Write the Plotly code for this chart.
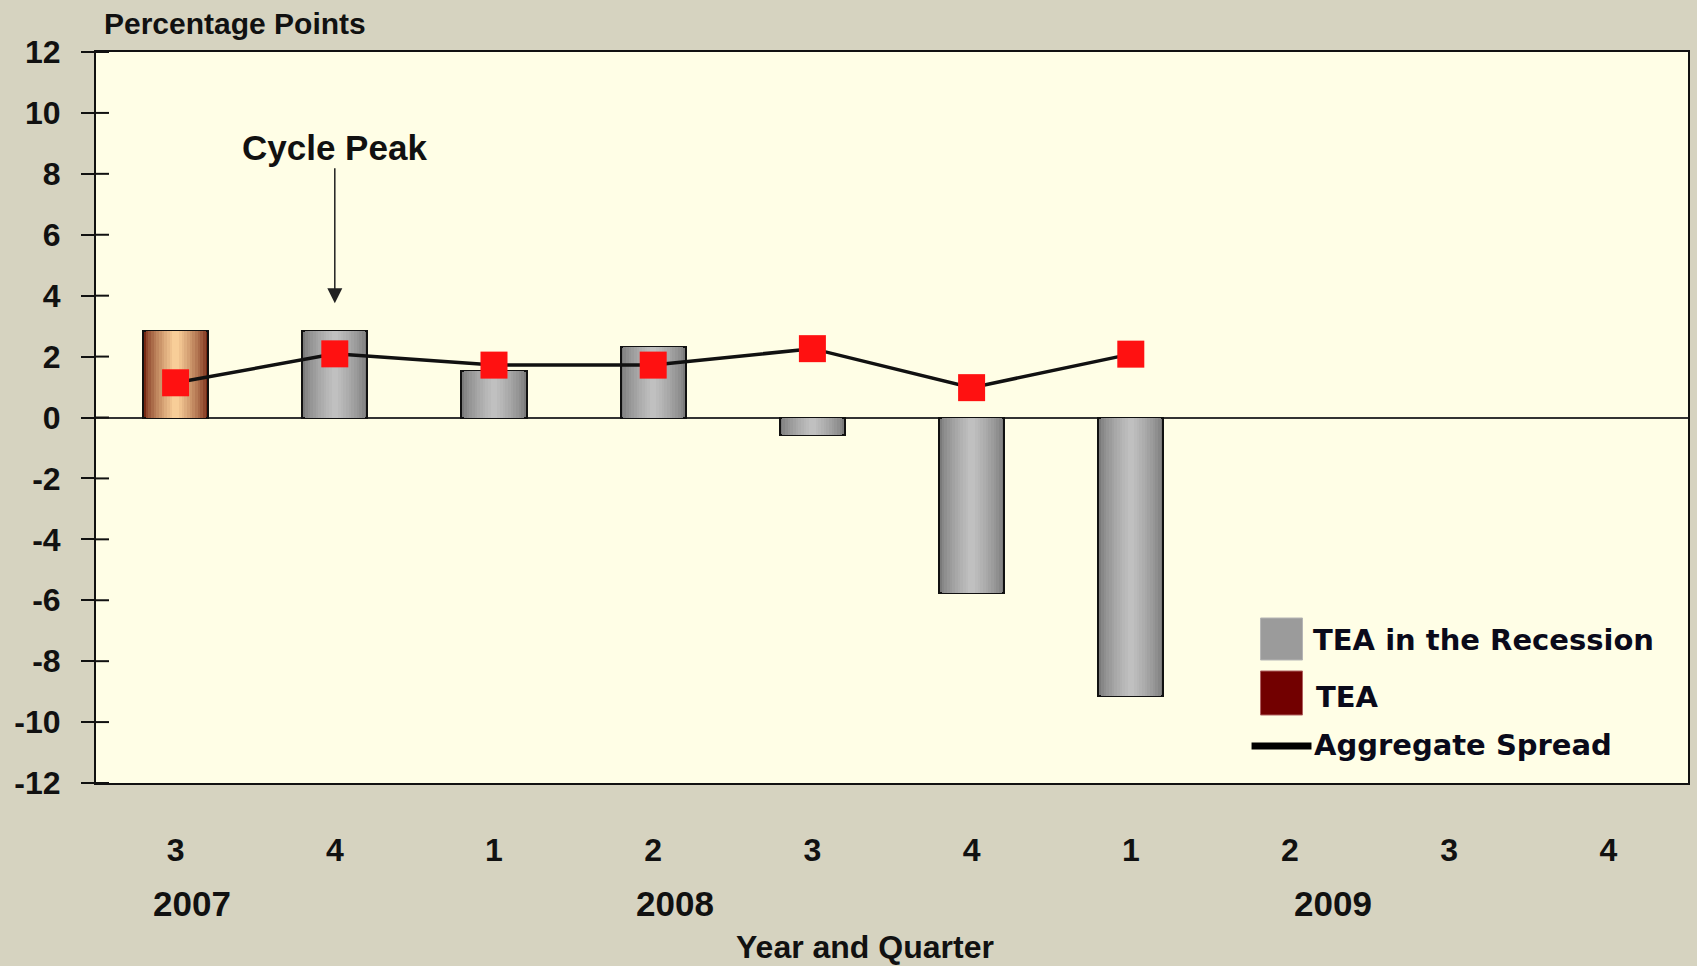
import plotly.graph_objs as go

# === Daten ===
quarters = ["3", "4", "1", "2", "3", "4", "1", "2", "3", "4"]
years = ["2007", "2008", "2009"]
year_pos = [0.1, 3.14, 7.27]          # label positions on the quarter axis

tea = [2.85, None, None, None, None, None, None, None, None, None]
tea_recession = [None, 2.85, 1.54, 2.3, -0.56, -5.77, -9.15, None, None, None]
aggregate_spread = [1.14, 2.09, 1.72, 1.72, 2.26, 0.98, 2.08, None, None, None]

y_ticks = list(range(-12, 13, 2))
y_ticktext = [str(v) for v in y_ticks]   # plain hyphen, like the original

x_idx = list(range(len(quarters)))

# === Geometrie (Pixel des Originals) ===
W, H = 1697, 966
L, R, T, B = 96, 1690, 52, 783


def px(x, y):
    return (x - L) / (R - L), (B - y) / (B - T)


FONT = "Liberation Sans, Arial, sans-serif"
LEG_FONT = "DejaVu Sans, Verdana, sans-serif"


def mix(c1, c2, t):
    return "rgb({},{},{})".format(*[round(a + (b - a) * t) for a, b in zip(c1, c2)])


fig = go.Figure()

# === Balken mit Zylinder-Verlauf (mehrere überlagerte Schichten) ===
bar_w = 0.41
n_layers = 12
series = [
    ("TEA in the Recession", tea_recession, (122, 122, 122), (192, 192, 192)),
    ("TEA", tea, (118, 40, 20), (248, 206, 152)),
]
for name, vals, dark, light in series:
    for k in range(n_layers):
        t = k / (n_layers - 1)
        fig.add_trace(go.Bar(
            x=x_idx, y=vals,
            width=bar_w * (1 - 0.9 * t),
            marker=dict(color=mix(dark, light, t ** 0.7),
                        line=dict(color="#111111", width=2 if k == 0 else 0)),
            name=name, showlegend=False, hoverinfo="skip" if k else None,
        ))

# === Aggregate Spread ===
fig.add_trace(go.Scatter(
    x=x_idx, y=aggregate_spread, mode="lines+markers",
    line=dict(color="#111111", width=3.5),
    marker=dict(symbol="square", size=27, color="#ff1111"),
    name="Aggregate Spread", showlegend=False,
))

shapes = []
annotations = []

# Tick-Stummel innerhalb der Achse (Original: Ticks kreuzen die Achse)
tick_in = 13 / (R - L)
for v in y_ticks:
    shapes.append(dict(type="line", xref="paper", yref="y", x0=0, x1=tick_in, y0=v, y1=v,
                       line=dict(color="#111111", width=2)))

# === Legende (von Hand) ===
x0, y0 = px(1262, 618); x1, y1 = px(1304, 660)
shapes.append(dict(type="rect", xref="paper", yref="paper", x0=x0, y0=y0, x1=x1, y1=y1,
                   fillcolor="#9b9b9b", line=dict(color="#b5b5b5", width=1)))
x0, y0 = px(1262, 671); x1, y1 = px(1304, 715)
shapes.append(dict(type="rect", xref="paper", yref="paper", x0=x0, y0=y0, x1=x1, y1=y1,
                   fillcolor="#720000", line=dict(color="#b06060", width=1)))
x0, y0 = px(1253, 746); x1, _ = px(1313, 746)
shapes.append(dict(type="line", xref="paper", yref="paper", x0=x0, y0=y0, x1=x1, y1=y0,
                   line=dict(color="#000000", width=7)))

for label, lx, ly in [("TEA in the Recession", 1313, 640),
                      ("TEA", 1316, 697),
                      ("Aggregate Spread", 1314, 745)]:
    ax_, ay_ = px(lx, ly)
    annotations.append(dict(text=f"<b>{label}</b>", xref="paper", yref="paper",
                            x=ax_, y=ay_, xanchor="left", yanchor="middle", showarrow=False,
                            font=dict(family=LEG_FONT, size=29, color="#0a0a1a")))

# === Jahre, Achsentitel, Cycle Peak ===
for yr, pos in zip(years, year_pos):
    _, yy = px(0, 903)
    annotations.append(dict(text=f"<b>{yr}</b>", xref="x", yref="paper", x=pos, y=yy,
                            xanchor="center", yanchor="middle", showarrow=False,
                            font=dict(family=FONT, size=35, color="#111111")))

tx, ty = px(866, 947)
annotations.append(dict(text="<b>Year and Quarter</b>", xref="paper", yref="paper", x=tx, y=ty,
                        xanchor="center", yanchor="middle", showarrow=False,
                        font=dict(family=FONT, size=32, color="#111111")))

tx, ty = px(102, 24)
annotations.append(dict(text="<b>Percentage Points</b>", xref="paper", yref="paper", x=tx, y=ty,
                        xanchor="left", yanchor="middle", showarrow=False,
                        font=dict(family=FONT, size=30, color="#111111")))

annotations.append(dict(text="<b>Cycle Peak</b>", x=1, y=3.75, xref="x", yref="y",
                        ax=0, ay=-156, showarrow=True, arrowhead=2, arrowsize=2,
                        arrowwidth=1.5, arrowcolor="#222222", standoff=0,
                        font=dict(family=FONT, size=35, color="#111111")))

# === Layout ===
fig.update_layout(
    width=W, height=H,
    margin=dict(l=L, r=W - R, t=T, b=H - B),
    paper_bgcolor="#d6d3c0",
    plot_bgcolor="#fffee6",
    barmode="overlay",
    bargap=0,
    showlegend=False,
    shapes=shapes,
    annotations=annotations,
    xaxis=dict(range=[-0.5, 9.5], tickvals=x_idx, ticktext=[f"<b>{q}</b>" for q in quarters],
               showgrid=False, zeroline=False, showline=True, linecolor="#111111", linewidth=2,
               mirror=True, ticks="", ticklabelstandoff=38,
               tickfont=dict(family=FONT, size=32, color="#111111")),
    yaxis=dict(range=[-12, 12], tickvals=y_ticks, ticktext=[f"<b>{t}</b>" for t in y_ticktext],
               showgrid=False, zeroline=True, zerolinecolor="#333333", zerolinewidth=2,
               showline=True, linecolor="#111111", linewidth=2, mirror=True,
               ticks="outside", ticklen=13, tickwidth=2, tickcolor="#111111",
               ticklabelstandoff=14,
               tickfont=dict(family=FONT, size=32, color="#111111")),
)

# Seitenrand des Browsers entfernen, damit die Grafik bei (0,0) beginnt
fig.write_html("out.html", config={"displayModeBar": False},
               post_script="document.body.style.margin='0';")
